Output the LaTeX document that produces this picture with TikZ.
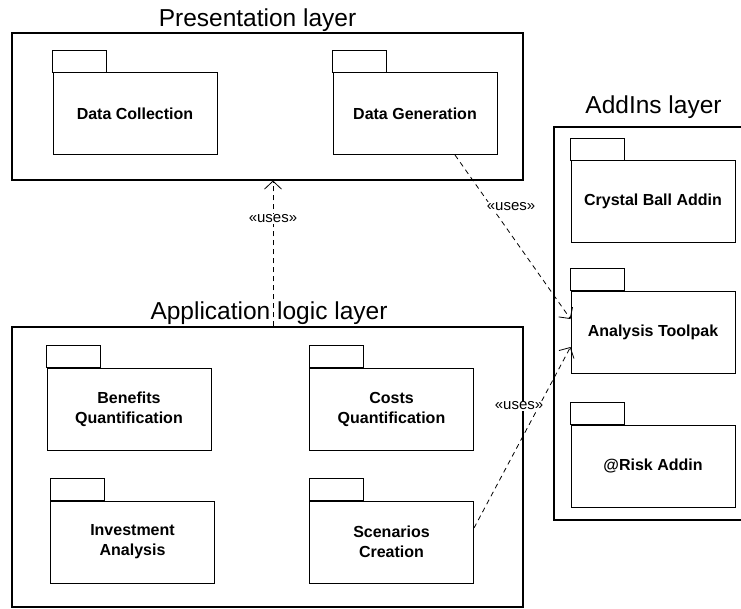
\documentclass[tikz,border=0pt]{standalone}
\usepackage{fontspec}
\setmainfont{Liberation Sans}
\usetikzlibrary{arrows.meta,calc}
\newcommand\pkgtab[1]{\draw[line width=1pt] (#1.north west) rectangle ++(54pt,22pt);}
\begin{document}
\begin{tikzpicture}[x=1pt,y=-1pt,
  frame/.style={draw, line width=1.1pt, inner sep=0pt},
  pkgbody/.style={draw, line width=1pt, minimum width=164pt, minimum height=82pt, inner sep=0pt, align=center, font=\fontsize{16}{20}\selectfont\bfseries},
  title/.style={anchor=base, inner sep=0pt, font=\fontsize{24.5}{28}\selectfont},
  dep/.style={dash pattern=on 5pt off 4pt, line width=0.8pt, -{Straight Barb[length=8pt,width=17pt,line width=0.8pt]}},
  uses/.style={fill=white, inner sep=1pt, font=\fontsize{15}{18}\selectfont}]
\useasboundingbox (0,0) rectangle (741,608);
\fill[white] (0,0) rectangle (741,608);

% layer frames
\node[frame, minimum width=511pt, minimum height=147pt] (pres) at (267.5,106.5) {};
\node[frame, minimum width=511pt, minimum height=280pt] (app) at (267.5,467) {};
\coordinate (addne) at (741,127);
\coordinate (addnw) at (554,127);
\coordinate (addsw) at (554,520);
\coordinate (addse) at (741,520);
\draw[line width=1.1pt] (addne) -- (addnw) -- (addsw) -- (addse);

% titles
\node[title] (prestitle) at (257.5,26) {Presentation layer};
\node[title] (apptitle) at (269,319) {Application logic layer};
\node[title] (addtitle) at (653.5,113) {AddIns layer};

% packages
\node[pkgbody] (dc) at (135,113.5) {Data Collection};
\node[pkgbody] (dg) at (415,113.5) {Data Generation};
\node[pkgbody] (cb) at (653,201.5) {Crystal Ball Addin};
\node[pkgbody] (atk) at (653,332) {Analysis Toolpak};
\node[pkgbody] (rk) at (653,466) {@Risk Addin};
\node[pkgbody] (bq) at (129,409) {Benefits\\Quantification};
\node[pkgbody] (cq) at (391.5,409) {Costs\\Quantification};
\node[pkgbody] (ia) at (132.5,542) {Investment\\Analysis};
\node[pkgbody] (sc) at (391.5,542) {Scenarios\\Creation};
\pkgtab{dc}\pkgtab{dg}\pkgtab{cb}\pkgtab{atk}\pkgtab{rk}
\pkgtab{bq}\pkgtab{cq}\pkgtab{ia}\pkgtab{sc}

% dependencies
\draw[dep] ([xshift=5.5pt]app.north) -- ([xshift=5.5pt]pres.south);
\draw[dep] ([xshift=40pt]dg.south) -- ([yshift=13pt]atk.west);
\draw[dep] ([yshift=14pt]sc.east) -- ([yshift=-15pt]atk.west);

% labels
\node[uses] (u1) at (273,219) {«uses»};
\node[uses] (u2) at (511,207) {«uses»};
\node[uses] (u3) at (519,406) {«uses»};
\end{tikzpicture}
\end{document}
